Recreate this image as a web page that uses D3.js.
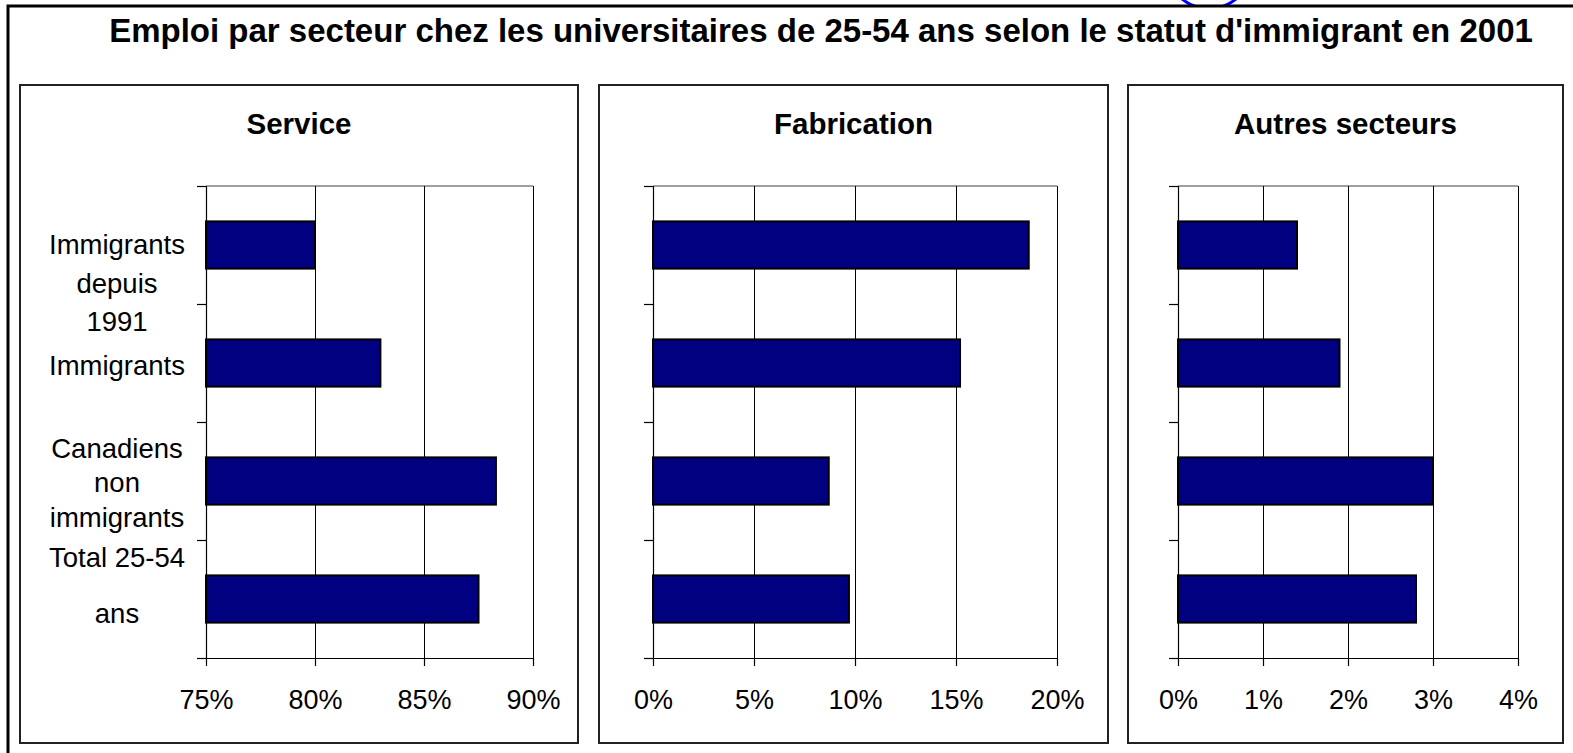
<!DOCTYPE html>
<html>
<head>
<meta charset="utf-8">
<script src="https://cdn.jsdelivr.net/npm/d3@7"></script>
<style>
  html, body { margin: 0; padding: 0; background: #fff; }
  svg { display: block; }
  text { font-family: "Liberation Sans", Arial, sans-serif; fill: #000; }
</style>
</head>
<body>
<script>
// ---------- DATA ----------
const chartTitle = "Emploi par secteur chez les universitaires de 25-54 ans selon le statut d'immigrant en 2001";
const categories = ["Immigrants depuis 1991", "Immigrants", "Canadiens non immigrants", "Total 25-54 ans"];
const categoryLines = [["Immigrants", "depuis", "1991"], ["Immigrants"], ["Canadiens", "non", "immigrants"], ["Total 25-54", "ans"]];
const panelTitles = ["Service", "Fabrication", "Autres secteurs"];
const serviceValues = [80.0, 83.0, 88.3, 87.5];
const fabricationValues = [18.6, 15.2, 8.7, 9.7];
const autresValues = [1.4, 1.9, 3.0, 2.8];
const serviceTicks = [75, 80, 85, 90];
const fabricationTicks = [0, 5, 10, 15, 20];
const autresTicks = [0, 1, 2, 3, 4];

// ---------- LAYOUT ----------
const W = 1573, H = 753;
const svg = d3.select("body").append("svg").attr("width", W).attr("height", H);

// stray blue circle (cut by frame)
svg.append("circle").attr("cx", 1209).attr("cy", -34.5).attr("r", 43)
  .attr("fill", "none").attr("stroke", "#0000ff").attr("stroke-width", 3);

// outer frame (only top and left visible)
svg.append("rect").attr("x", 8).attr("y", 6).attr("width", W + 20).attr("height", H + 20)
  .attr("fill", "#fff").attr("stroke", "#000").attr("stroke-width", 3);

svg.append("text").attr("x", 821).attr("y", 30)
  .attr("text-anchor", "middle").attr("dominant-baseline", "central")
  .attr("font-weight", "bold").attr("font-size", 33).text(chartTitle);

const panels = [
  { frame: [20, 85, 578, 743], plot: [206, 186, 533, 658], values: serviceValues, ticks: serviceTicks, labels: true },
  { frame: [599, 85, 1108, 743], plot: [653, 186, 1057, 658], values: fabricationValues, ticks: fabricationTicks, labels: false },
  { frame: [1128, 85, 1563, 743], plot: [1178, 186, 1518, 658], values: autresValues, ticks: autresTicks, labels: false }
];
// vertical centres of each line of the category labels (layout, as in the reference)
const labelLineY = [[244, 283, 321], [365], [448, 482, 517], [557, 613]];

panels.forEach((p, i) => {
  const [fx0, fy0, fx1, fy1] = p.frame;
  const [px0, py0, px1, py1] = p.plot;
  const g = svg.append("g");

  g.append("rect").attr("x", fx0).attr("y", fy0).attr("width", fx1 - fx0).attr("height", fy1 - fy0)
    .attr("fill", "#fff").attr("stroke", "#222").attr("stroke-width", 2);

  g.append("text").attr("x", (fx0 + fx1) / 2).attr("y", 123)
    .attr("text-anchor", "middle").attr("dominant-baseline", "central")
    .attr("font-weight", "bold").attr("font-size", 29.5).text(panelTitles[i]);

  const x = d3.scaleLinear().domain(d3.extent(p.ticks)).range([px0, px1]);
  const y = d3.scaleBand().domain(categories).range([py0, py1]).paddingInner(0.6).paddingOuter(0.3);
  const yEdge = d3.scaleLinear().domain([0, categories.length]).range([py0, py1]);

  // plot-area top border
  g.append("line").attr("x1", px0).attr("x2", px1).attr("y1", py0).attr("y2", py0)
    .attr("stroke", "#808080").attr("stroke-width", 1.5);

  // gridlines
  const grid = g.append("g").attr("transform", `translate(0,${py1})`)
    .call(d3.axisBottom(x).tickValues(p.ticks).tickSize(-(py1 - py0)).tickFormat(""));
  grid.select(".domain").remove();
  grid.selectAll("line").attr("stroke", "#000").attr("stroke-width", 1);

  // bars
  g.selectAll("rect.bar").data(p.values).join("rect").attr("class", "bar")
    .attr("x", x(p.ticks[0]))
    .attr("y", (d, k) => y(categories[k]))
    .attr("width", d => x(d) - x(p.ticks[0]))
    .attr("height", y.bandwidth())
    .attr("fill", "#000080").attr("stroke", "#000").attr("stroke-width", 2);

  // y axis (ticks between categories)
  const ya = g.append("g").attr("transform", `translate(${px0},0)`)
    .call(d3.axisLeft(yEdge).tickValues(d3.range(categories.length + 1)).tickSize(9).tickFormat("").tickSizeOuter(0));
  ya.selectAll("path,line").attr("stroke", "#000").attr("stroke-width", 1.2);

  // x axis
  const xa = g.append("g").attr("transform", `translate(0,${py1})`)
    .call(d3.axisBottom(x).tickValues(p.ticks).tickSize(8).tickSizeOuter(0).tickPadding(24)
      .tickFormat(d => d + "%"));
  xa.selectAll("path,line").attr("stroke", "#000").attr("stroke-width", 1.2);
  xa.selectAll("text").attr("font-size", 27).attr("fill", "#000")
    .attr("font-family", "'Liberation Sans', Arial, sans-serif");

  if (p.labels) {
    categoryLines.forEach((lines, k) => {
      lines.forEach((ln, j) => {
        g.append("text").attr("x", 117).attr("y", labelLineY[k][j])
          .attr("text-anchor", "middle").attr("dominant-baseline", "central")
          .attr("font-size", 27.5).text(ln);
      });
    });
  }
});
</script>
</body>
</html>
